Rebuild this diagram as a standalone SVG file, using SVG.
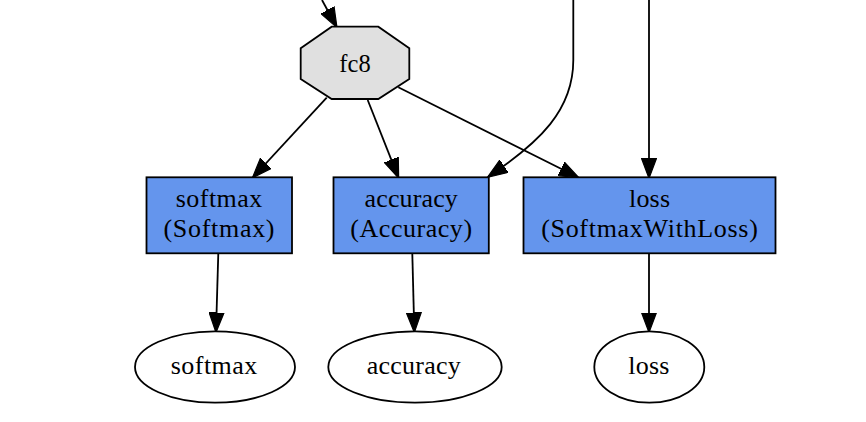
<svg xmlns="http://www.w3.org/2000/svg" width="866" height="422" viewBox="0 0 866 422">
<style>
text{font-family:"Liberation Serif","Times New Roman",serif;font-size:26px;fill:#000;text-anchor:middle}
.layer{fill:#6495ED;stroke:#000;stroke-width:1.8}
.blob{fill:#E0E0E0;stroke:#000;stroke-width:1.8}
.out{fill:#fff;stroke:#000;stroke-width:1.8}
.edge{fill:none;stroke:#000;stroke-width:1.8;marker-end:url(#arr)}
</style>
<defs>
<marker id="arr" viewBox="0 0 20 16" refX="19" refY="8" markerWidth="20" markerHeight="16" markerUnits="userSpaceOnUse" orient="auto">
<path d="M0,0.5 L20,8 L0,15.5 z" fill="#000" stroke="#000" stroke-width="1.2"/>
</marker>
</defs>
<rect width="866" height="422" fill="#fff"/>
<g id="edges">
<path class="edge" d="M322,0 L336.5,26.7"/>
<path class="edge" d="M573.3,0 L573.3,60 C573.3,110 540,142 488.3,176.7"/>
<path class="edge" d="M649,0 L649,177.3"/>
<path class="edge" d="M326.7,97.7 L253,177.3"/>
<path class="edge" d="M367.7,100 L398.3,177.3"/>
<path class="edge" d="M398.3,87.3 L578,177.3"/>
<path class="edge" d="M218.3,253.3 L216,331.5"/>
<path class="edge" d="M412.3,253.3 L414.3,331.5"/>
<path class="edge" d="M649,253.3 L649,331.5"/>
</g>
<g id="fc8">
<polygon class="blob" points="331.7,26.7 378.3,26.7 409.3,48.3 409.3,79 378.3,99 331.7,99 300.7,79 300.7,48.3"/>
<text x="355" y="71.7" textLength="31.3" lengthAdjust="spacingAndGlyphs">fc8</text>
</g>
<g id="softmax_layer">
<rect class="layer" x="146.5" y="177.3" width="145.5" height="76"/>
<text x="219" y="207" textLength="86.7" lengthAdjust="spacing">softmax</text>
<text x="219" y="236.7" textLength="111" lengthAdjust="spacing">(Softmax)</text>
</g>
<g id="accuracy_layer">
<rect class="layer" x="333.5" y="177.3" width="155.3" height="76"/>
<text x="411.2" y="207" textLength="93.3" lengthAdjust="spacing">accuracy</text>
<text x="411.2" y="236.7" textLength="121.7" lengthAdjust="spacing">(Accuracy)</text>
</g>
<g id="loss_layer">
<rect class="layer" x="523.5" y="177.3" width="252" height="76"/>
<text x="649.5" y="207" textLength="41" lengthAdjust="spacing">loss</text>
<text x="649.5" y="236.7" textLength="216.7" lengthAdjust="spacing">(SoftmaxWithLoss)</text>
</g>
<g id="softmax_blob">
<ellipse class="out" cx="215" cy="367" rx="80" ry="35.7"/>
<text x="214" y="374" textLength="86.7" lengthAdjust="spacing">softmax</text>
</g>
<g id="accuracy_blob">
<ellipse class="out" cx="415" cy="367" rx="86.7" ry="35.7"/>
<text x="413.7" y="374" textLength="94" lengthAdjust="spacing">accuracy</text>
</g>
<g id="loss_blob">
<ellipse class="out" cx="649.3" cy="367" rx="55" ry="35.7"/>
<text x="648.8" y="374" textLength="41" lengthAdjust="spacing">loss</text>
</g>
</svg>
